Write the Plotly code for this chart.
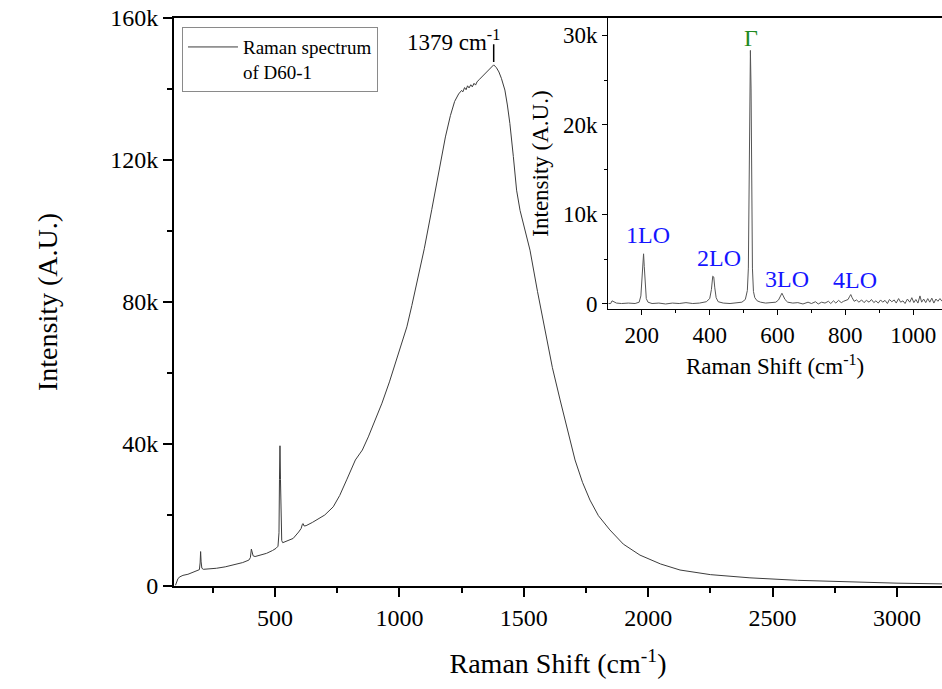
import plotly.graph_objects as go

SERIF = "Liberation Serif"

# Full-range Raman spectrum of D60-1 (shift in cm^-1, intensity in thousands of counts)
main_shift = [
    100, 104, 110, 118, 130, 150, 170, 190, 196, 199, 201, 203, 206, 212, 240, 265,
    300, 332, 370, 395, 401, 405, 408, 412, 420, 445, 466, 490, 504, 512, 516, 518,
    520, 522, 524, 527, 531, 550, 573, 595, 605, 610, 613, 617, 625, 650, 668, 700,
    734, 760, 788, 810, 823, 840, 851, 875, 903, 930, 960, 1000, 1030, 1050, 1075,
    1100, 1130, 1160, 1185, 1205, 1222, 1238, 1250, 1255, 1262, 1268, 1274, 1280,
    1287, 1293, 1300, 1306, 1312, 1320, 1330, 1340, 1350, 1360, 1370, 1379, 1390,
    1400, 1410, 1424, 1434, 1444, 1458, 1471, 1485, 1500, 1525, 1555, 1585, 1615,
    1646, 1676, 1706, 1736, 1766, 1800, 1846, 1900, 1967, 2050, 2128, 2250, 2409,
    2600, 2811, 3000, 3181,
]
main_intensity_k = [
    0.2, 1.2, 2.1, 2.6, 3.0, 3.3, 3.8, 4.3, 4.6, 6.5, 9.7, 6.8, 5.0, 4.7, 4.8, 5.0,
    5.4, 5.9, 6.6, 7.3, 8.0, 10.4, 9.6, 8.5, 8.3, 8.8, 9.2, 10.0, 10.6, 11.2, 15.0, 30.0,
    39.5, 30.0, 17.0, 12.8, 12.2, 12.7, 13.4, 15.2, 16.2, 17.4, 17.6, 16.9, 17.0, 17.9, 18.6, 20.0,
    22.3, 25.5, 29.9, 33.5, 35.5, 37.2, 38.3, 42.0, 46.8, 51.5, 57.5, 66.0, 73.0, 79.0, 87.0,
    95.0, 106.0, 117.0, 126.5, 132.5, 136.5, 138.6, 139.6, 139.2, 140.4, 139.8, 140.9, 140.3,
    141.2, 140.6, 141.6, 141.1, 142.0, 142.6, 143.3, 144.1, 144.9, 145.6, 146.3, 146.8, 146.0,
    144.8, 143.0, 139.7, 135.5, 130.3, 121.0, 111.5, 105.8, 101.5, 94.6, 83.0, 72.0, 61.5,
    52.4, 43.5, 35.5, 29.2, 24.2, 19.8, 15.8, 11.8, 8.7, 6.2, 4.5, 3.2, 2.3,
    1.6, 1.1, 0.8, 0.6,
]

# Low-frequency region after baseline subtraction (inset)
inset_shift = [
    101, 108, 112, 118, 125, 140, 160, 180, 192, 197, 200, 203, 205, 207, 210, 213,
    218, 230, 250, 270, 290, 310, 330, 350, 370, 390, 400, 405, 409, 412, 415, 419,
    425, 440, 460, 480, 495, 505, 511, 514, 516, 518, 520, 522, 524, 526, 529, 533,
    540, 550, 565, 580, 595, 603, 608, 613, 617, 622, 630, 645, 660, 675, 690, 700,
    712, 720, 730, 740, 750, 757, 765, 772, 780, 788, 795, 802, 808, 812, 816, 820,
    826, 833, 840, 848, 855, 862, 870, 877, 884, 890, 897, 904, 910, 917, 924, 930,
    937, 944, 950, 957, 963, 970, 976, 983, 990, 996, 1002, 1008, 1014, 1020, 1025,
    1031, 1037, 1043, 1049, 1055, 1061, 1067, 1073, 1079, 1085,
]
inset_intensity_k = [
    0.05, 0.05, 0.35, 0.2, 0.1, 0.05, 0.1, 0.05, 0.2, 0.9, 3.0, 5.5, 5.6, 4.2, 1.5, 0.6,
    0.2, 0.05, 0.1, 0.0, 0.1, 0.05, 0.15, 0.05, 0.1, 0.25, 0.6, 1.6, 3.1, 3.0, 1.8, 0.7,
    0.25, 0.1, 0.05, 0.1, 0.2, 0.5, 1.5, 4.0, 10.0, 20.0, 28.3, 24.0, 12.0, 4.0, 1.4, 0.7,
    0.35, 0.2, 0.1, 0.15, 0.2, 0.45, 0.9, 1.2, 0.9, 0.5, 0.2, 0.1, 0.15, 0.0, 0.2, 0.05,
    0.25, 0.0, 0.2, 0.1, 0.3, 0.05, 0.35, 0.1, 0.4, 0.15, 0.3, 0.4, 0.5, 0.8, 1.05, 0.7,
    0.3, 0.45, 0.2, 0.45, 0.15, 0.4, 0.2, 0.5, 0.15, 0.35, 0.1, 0.45, 0.2, 0.4, 0.05, 0.5,
    0.25, 0.45, 0.1, 0.6, 0.2, 0.35, 0.05, 0.55, 0.2, 0.7, 0.15, 0.5, 0.1, 0.9, 0.2,
    0.55, 0.15, 0.6, 0.2, 0.65, 0.1, 0.55, 0.3, 0.6, 0.3,
]

# Phonon mode labels in the inset: text, shift, intensity (k), colour
mode_labels = ["1LO", "2LO", "\u0393", "3LO", "4LO"]
mode_x = [219, 426, 521, 628, 829]
mode_y_k = [7.7, 5.1, 29.7, 2.75, 2.65]
mode_colors = ["#1515ff", "#1515ff", "#1f8a1f", "#1515ff", "#1515ff"]

peak_shift = 1379
peak_intensity_k = 146.8

main_y = [v * 1000 for v in main_intensity_k]
inset_y = [v * 1000 for v in inset_intensity_k]

fig = go.Figure()
fig.add_trace(go.Scatter(
    x=main_shift, y=main_y, mode="lines",
    line=dict(color="#3c3c3c", width=1),
    name="Raman spectrum<br>of D60-1",
    xaxis="x", yaxis="y",
))
fig.add_trace(go.Scatter(
    x=inset_shift, y=inset_y, mode="lines",
    line=dict(color="#555555", width=1),
    showlegend=False, xaxis="x2", yaxis="y2",
))

axis_common = dict(showgrid=False, zeroline=False, showline=True, linecolor="black",
                   tickcolor="black", ticks="outside")

fig.update_layout(
    width=942, height=689,
    margin=dict(l=174, r=0, t=18, b=103),
    paper_bgcolor="white", plot_bgcolor="white",
    font=dict(family=SERIF, color="black"),
    xaxis=dict(
        **axis_common, domain=[0, 1], range=[94, 3181], linewidth=2, mirror=True,
        tick0=0, dtick=500, ticklen=9, tickwidth=2,
        minor=dict(dtick=250, tick0=0, ticks="outside", ticklen=5, tickwidth=2, tickcolor="black"),
        tickfont=dict(size=24, family=SERIF),
        title=dict(text="Raman Shift (cm<sup>-1</sup>)", font=dict(size=28, family=SERIF), standoff=24),
    ),
    yaxis=dict(
        **axis_common, domain=[0, 1], range=[0, 160000], linewidth=2, mirror=False,
        tick0=0, dtick=40000, ticklen=9, tickwidth=2, tickformat="~s",
        minor=dict(dtick=20000, tick0=0, ticks="outside", ticklen=5, tickwidth=2, tickcolor="black"),
        tickfont=dict(size=24, family=SERIF),
        title=dict(text="Intensity (A.U.)", font=dict(size=28, family=SERIF), standoff=44),
    ),
    xaxis2=dict(
        **axis_common, domain=[0.5655, 1.0], anchor="y2", range=[101, 1085], linewidth=1.2,
        tick0=0, dtick=200, ticklen=5, tickwidth=1.2,
        minor=dict(dtick=100, tick0=0, ticks="outside", ticklen=3, tickwidth=1.2, tickcolor="black"),
        tickfont=dict(size=23, family=SERIF),
        title=dict(text="Raman Shift (cm<sup>-1</sup>)", font=dict(size=23, family=SERIF), standoff=11),
    ),
    yaxis2=dict(
        **axis_common, domain=[0.4877, 1.0], anchor="x2", range=[-560, 31920], linewidth=1.2,
        tick0=0, dtick=10000, ticklen=5, tickwidth=1.2, tickformat="~s",
        minor=dict(dtick=5000, tick0=0, ticks="outside", ticklen=3, tickwidth=1.2, tickcolor="black"),
        tickfont=dict(size=23, family=SERIF),
        title=dict(text="Intensity (A.U.)", font=dict(size=23, family=SERIF), standoff=8),
    ),
    legend=dict(
        x=0.0104, y=0.984, xanchor="left", yanchor="top",
        bgcolor="white", bordercolor="#8a8a8a", borderwidth=1,
        font=dict(size=19, family=SERIF), valign="top", itemwidth=50,
    ),
    showlegend=True,
)

# Peak marker and label for the broad band maximum
fig.add_shape(type="line", xref="x", yref="y",
              x0=peak_shift, x1=peak_shift,
              y0=(peak_intensity_k + 0.8) * 1000, y1=(peak_intensity_k + 5.8) * 1000,
              line=dict(color="black", width=1.5))
fig.add_annotation(x=peak_shift, y=(peak_intensity_k + 6.8) * 1000, xref="x", yref="y",
                   text=f"{peak_shift} cm<sup>-1</sup>", showarrow=False,
                   xanchor="right", yanchor="middle", xshift=8,
                   font=dict(size=23, family=SERIF, color="black"))

for label, mx, my, col in zip(mode_labels, mode_x, mode_y_k, mode_colors):
    fig.add_annotation(x=mx, y=my * 1000, xref="x2", yref="y2", text=label,
                       showarrow=False, xanchor="center", yanchor="middle",
                       font=dict(size=24, family=SERIF, color=col))

fig.write_html("out.html")
